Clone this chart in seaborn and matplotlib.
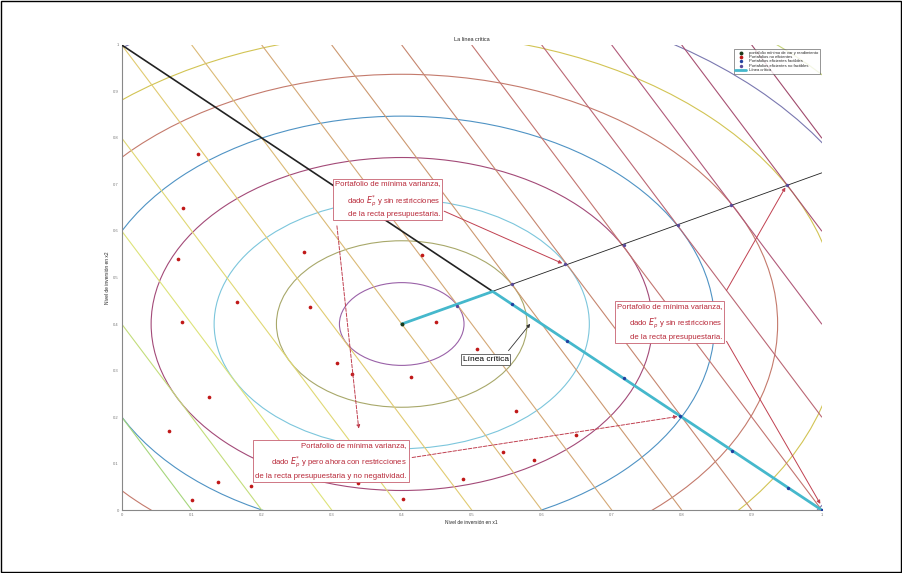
import numpy as np
import pandas as pd
import matplotlib
matplotlib.use("Agg")
import matplotlib.pyplot as plt
import seaborn as sns
from matplotlib import font_manager
from matplotlib.patches import Circle, Rectangle
from matplotlib.colors import LinearSegmentedColormap

# ---------------- data ----------------
center = (0.4, 0.4)
radii = [0.089, 0.179, 0.268, 0.358, 0.447, 0.537, 0.626, 0.716, 0.805]
circle_colors = ["#9a62a8", "#a8a86a", "#7cc6dc", "#a34a78", "#4f93c4",
                 "#c47a6c", "#d2c454", "#7a78b0", "#c6d47a"]
return_levels = [0.2, 0.4, 0.6, 0.8, 1.0, 1.2, 1.4, 1.6, 1.8, 2.0, 2.2, 2.4, 2.6, 2.8]
mu1, mu2 = 2.0, 1.0  # iso-return lines: mu1*x1 + mu2*x2 = level

nonefficient_x = [0.109, 0.087, 0.080, 0.165, 0.086, 0.261, 0.269, 0.308, 0.125, 0.067,
                  0.199, 0.137, 0.184, 0.101, 0.337, 0.402, 0.488, 0.429, 0.449, 0.508,
                  0.329, 0.413, 0.563, 0.649, 0.545, 0.589]
nonefficient_y = [0.765, 0.649, 0.540, 0.448, 0.404, 0.555, 0.436, 0.317, 0.243, 0.171,
                  0.143, 0.060, 0.052, 0.021, 0.058, 0.024, 0.066, 0.548, 0.404, 0.347,
                  0.292, 0.287, 0.213, 0.161, 0.124, 0.108]

feasible_x = [0.558, 0.636, 0.717, 0.798, 0.872, 0.952, 1.0]
feasible_y = [0.442, 0.364, 0.283, 0.202, 0.128, 0.048, 0.0]

infeasible_x = [0.479, 0.558, 0.633, 0.717, 0.794, 0.871, 0.950]
infeasible_y = [0.439, 0.485, 0.528, 0.570, 0.613, 0.656, 0.699]

budget_x = [0.0, 0.53]
budget_y = [1.0, 0.47]
unconstrained_x = [0.4, 1.0]
unconstrained_y = [0.4, 0.725]
critical_x = [0.4, 0.53, 1.0]
critical_y = [0.4, 0.47, 0.0]

legend_labels = ["portafolio mínimo de var y rendimiento", "Portafolios no eficientes",
                 "Portafolios eficientes factibles", "Portafolios eficientes no factibles",
                 "Línea crítica"]

# ---------------- style ----------------
sns.set_style("white")
names = {f.name for f in font_manager.fontManager.ttflist}
narrow = "Liberation Sans Narrow" if "Liberation Sans Narrow" in names else "Liberation Sans"
plt.rcParams['font.family'] = [narrow, 'DejaVu Sans']

fig = plt.figure(figsize=(9.03, 5.73), dpi=100)
ax = fig.add_axes([0.1348, 0.1099, 0.7752, 0.8116])
ax.set_xlim(0, 1)
ax.set_ylim(0, 1)

# iso-variance circles
for r, col in zip(radii, circle_colors):
    ax.add_patch(Circle(center, r, fill=False, ec=col, lw=0.8, zorder=2, clip_on=True))

# iso-return lines
line_cmap = LinearSegmentedColormap.from_list(
    "ret", ["#a6d67c", "#dde47a", "#e2d070", "#d8b078", "#c8906e", "#c27070", "#b0587a", "#a04a6c"])
for i, c in enumerate(return_levels):
    x0 = max(0.0, (c - mu2) / mu1)
    x1 = min(1.0, c / mu1)
    xs = np.array([x0, x1])
    ys = (c - mu1 * xs) / mu2
    ax.plot(xs, ys, color=line_cmap(i / (len(return_levels) - 1)), lw=0.8, zorder=2)

# budget line and unconstrained critical line
ax.plot(budget_x, budget_y, color="#222222", lw=1.2, zorder=3)
ax.plot(unconstrained_x, unconstrained_y, color="#222222", lw=0.6, zorder=3)

# critical line
sns.lineplot(x=critical_x, y=critical_y, sort=False, color="#45b8cc", lw=2.0, ax=ax,
             zorder=4, label=legend_labels[4], legend=False)

# points
sns.scatterplot(x=[center[0]], y=[center[1]], color="#1a3a1a", s=8, ax=ax, zorder=5,
                linewidth=0, label=legend_labels[0], legend=False)
sns.scatterplot(x=nonefficient_x, y=nonefficient_y, color="#c01818", s=7, ax=ax, zorder=5,
                linewidth=0, label=legend_labels[1], legend=False)
sns.scatterplot(x=feasible_x, y=feasible_y, color="#2040a0", s=6, ax=ax, zorder=5,
                linewidth=0, label=legend_labels[2], legend=False)
sns.scatterplot(x=infeasible_x, y=infeasible_y, color="#5a4a9a", s=6, ax=ax, zorder=5,
                linewidth=0, label=legend_labels[3], legend=False)

# annotations
red = "#b82838"
txtkw = dict(fontsize=5.6, color=red, ha="right", va="center", linespacing=1.55,
             bbox=dict(boxstyle="square,pad=0.25", fc="white", ec="#c86070", lw=0.6), zorder=8)
top_txt = "Portafolio de mínima varianza,\ndado $E_p^{*}$ y sin restricciones\nde la recta presupuestaria."
bot_txt = ("Portafolio de mínima varianza,\ndado $E_p^{*}$ y pero ahora con restricciones\n"
           "de la recta presupuestaria y no negatividad.")
ax.text(0.455, 0.668, top_txt, **txtkw)
ax.text(0.858, 0.405, top_txt, **txtkw)
ax.text(0.407, 0.106, bot_txt, **txtkw)

arrow = dict(arrowstyle="-|>", color="#c04050", lw=0.7, mutation_scale=5)
ax.annotate("", xy=(0.633, 0.528), xytext=(0.457, 0.645), arrowprops=arrow, zorder=7)
ax.annotate("", xy=(0.950, 0.699), xytext=(0.862, 0.467), arrowprops=arrow, zorder=7)
ax.annotate("", xy=(1.0, 0.008), xytext=(0.862, 0.368), arrowprops=arrow, zorder=7)
dashed = dict(arrowstyle="-|>", color="#c04050", lw=0.7, ls="--", mutation_scale=5)
ax.annotate("", xy=(0.798, 0.202), xytext=(0.411, 0.112), arrowprops=dashed, zorder=7)
ax.annotate("", xy=(0.339, 0.169), xytext=(0.307, 0.617), arrowprops=dashed, zorder=7)

ax.text(0.520, 0.324, "Línea crítica", fontsize=6, color="black", ha="center", va="center",
        bbox=dict(boxstyle="square,pad=0.2", fc="white", ec="#555555", lw=0.6), zorder=8)
ax.annotate("", xy=(0.586, 0.405), xytext=(0.550, 0.338),
            arrowprops=dict(arrowstyle="-|>", color="#333333", lw=0.6, mutation_scale=5), zorder=7)

# axes cosmetics
ticks = np.round(np.arange(0, 1.01, 0.1), 1)
ax.set_xticks(ticks)
ax.set_yticks(ticks)
ax.set_xticklabels([f"{t:g}" for t in ticks])
ax.set_yticklabels([f"{t:g}" for t in ticks])
ax.tick_params(direction="in", length=4, width=0.6, colors="#777777", labelsize=3, pad=2)
for s in ["top", "right"]:
    ax.spines[s].set_visible(False)
for s in ["left", "bottom"]:
    ax.spines[s].set_color("#888888")
    ax.spines[s].set_linewidth(0.8)
ax.set_title("La línea crítica", fontsize=4, pad=3)
ax.set_xlabel("Nivel de inversión en x1", fontsize=3.5, labelpad=2)
ax.set_ylabel("Nivel de inversión en x2", fontsize=3.5, labelpad=2)

handles, labels = ax.get_legend_handles_labels()
order = [labels.index(l) for l in legend_labels]
leg = ax.legend([handles[i] for i in order], [labels[i] for i in order],
                loc="upper right", fontsize=3, frameon=True, handlelength=2.5,
                borderpad=0.3, labelspacing=0.1, markerscale=1.0, fancybox=False,
                bbox_to_anchor=(1.0, 0.995))
leg.get_frame().set_edgecolor("#444444")
leg.get_frame().set_linewidth(0.5)

fig.patches.append(Rectangle((0.001, 0.001), 0.997, 0.997, transform=fig.transFigure,
                             fill=False, ec="black", lw=1.0))

fig.savefig("out.png", dpi=100)
